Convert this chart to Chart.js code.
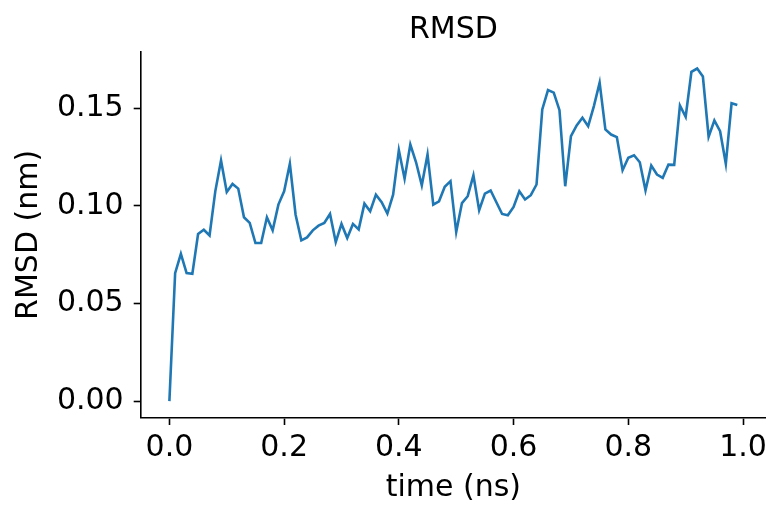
<!DOCTYPE html>
<html>
<head>
<meta charset="utf-8">
<script src="https://cdn.jsdelivr.net/npm/chart.js@4"></script>
<style>
  html, body { margin: 0; padding: 0; background: #fff; }
  #wrap { width: 782px; height: 520px; }
</style>
</head>
<body>
<div id="wrap"><canvas id="c" width="782" height="520"></canvas></div>
<script>
const chartTitle = "RMSD";
const xLabel = "time (ns)";
const yLabel = "RMSD (nm)";

const times = [
  0.00, 0.01, 0.02, 0.03, 0.04, 0.05, 0.06, 0.07, 0.08, 0.09,
  0.10, 0.11, 0.12, 0.13, 0.14, 0.15, 0.16, 0.17, 0.18, 0.19,
  0.20, 0.21, 0.22, 0.23, 0.24, 0.25, 0.26, 0.27, 0.28, 0.29,
  0.30, 0.31, 0.32, 0.33, 0.34, 0.35, 0.36, 0.37, 0.38, 0.39,
  0.40, 0.41, 0.42, 0.43, 0.44, 0.45, 0.46, 0.47, 0.48, 0.49,
  0.50, 0.51, 0.52, 0.53, 0.54, 0.55, 0.56, 0.57, 0.58, 0.59,
  0.60, 0.61, 0.62, 0.63, 0.64, 0.65, 0.66, 0.67, 0.68, 0.69,
  0.70, 0.71, 0.72, 0.73, 0.74, 0.75, 0.76, 0.77, 0.78, 0.79,
  0.80, 0.81, 0.82, 0.83, 0.84, 0.85, 0.86, 0.87, 0.88, 0.89,
  0.90, 0.91, 0.92, 0.93, 0.94, 0.95, 0.96, 0.97, 0.98, 0.99
];

const rmsd = [
  0.0000, 0.0656, 0.0755, 0.0656, 0.0652, 0.0856, 0.0878, 0.0849, 0.1075, 0.1233,
  0.1072, 0.1113, 0.1089, 0.0942, 0.0913, 0.0810, 0.0810, 0.0942, 0.0875, 0.1007,
  0.1075, 0.1216, 0.0955, 0.0824, 0.0839, 0.0875, 0.0899, 0.0913, 0.0959, 0.0815,
  0.0908, 0.0836, 0.0908, 0.0880, 0.1012, 0.0973, 0.1058, 0.1019, 0.0961, 0.1058,
  0.1286, 0.1140, 0.1315, 0.1224, 0.1106, 0.1264, 0.1007, 0.1024, 0.1098, 0.1127,
  0.0866, 0.1015, 0.1050, 0.1157, 0.0978, 0.1063, 0.1079, 0.1019, 0.0959, 0.0952,
  0.0995, 0.1075, 0.1033, 0.1055, 0.1110, 0.1495, 0.1594, 0.1581, 0.1491, 0.1101,
  0.1358, 0.1413, 0.1452, 0.1409, 0.1512, 0.1632, 0.1392, 0.1366, 0.1353, 0.1183,
  0.1247, 0.1260, 0.1224, 0.1080, 0.1207, 0.1161, 0.1144, 0.1212, 0.1211, 0.1515,
  0.1457, 0.1687, 0.1704, 0.1663, 0.1355, 0.1438, 0.1383, 0.1216, 0.1526, 0.1517
];

const xTicks = [0.0, 0.2, 0.4, 0.6, 0.8, 1.0];
const yTicks = [0.00, 0.05, 0.10, 0.15];

const FONT = "'DejaVu Sans', sans-serif";
const FS = 30;
const points = times.map((t, i) => ({ x: t, y: rmsd[i] }));

new Chart(document.getElementById('c'), {
  type: 'line',
  data: {
    datasets: [{
      data: points,
      borderColor: '#1f77b4',
      borderWidth: 2.6,
      pointRadius: 0,
      tension: 0,
      fill: false
    }]
  },
  options: {
    responsive: false,
    animation: false,
    devicePixelRatio: 1,
    layout: { padding: { left: 0, right: 16.3, top: 0, bottom: 0 } },
    plugins: {
      legend: { display: false },
      tooltip: { enabled: false },
      title: {
        display: true,
        fullSize: false,
        text: chartTitle,
        color: '#000',
        font: { family: FONT, size: FS, weight: 'normal', lineHeight: 1.2 },
        padding: { top: 12.1, bottom: 3.9 }
      }
    },
    scales: {
      x: {
        type: 'linear',
        min: -0.0495,
        max: 1.0395,
        afterBuildTicks: (s) => { s.ticks = xTicks.map(v => ({ value: v })); },
        afterFit: (s) => { s.height = 102.3; },
        grid: { display: true, drawOnChartArea: false, drawTicks: true, tickLength: 7.3, tickWidth: 1.6, tickColor: '#000' },
        border: { display: true, color: '#000', width: 1.6 },
        ticks: {
          color: '#000',
          padding: 5.4,
          maxRotation: 0,
          autoSkip: false,
          font: { family: FONT, size: FS, lineHeight: 1.2 },
          callback: (v) => Number(v).toFixed(1)
        },
        title: {
          display: true,
          text: xLabel,
          color: '#000',
          font: { family: FONT, size: FS, lineHeight: 1.2 },
          padding: { top: 0, bottom: 14.2 }
        }
      },
      y: {
        type: 'linear',
        min: -0.0085,
        max: 0.1789,
        afterBuildTicks: (s) => { s.ticks = yTicks.map(v => ({ value: v })); },
        afterFit: (s) => { s.width = 141; },
        grid: { display: true, drawOnChartArea: false, drawTicks: true, tickLength: 7.3, tickWidth: 1.6, tickColor: '#000' },
        border: { display: true, color: '#000', width: 1.6 },
        ticks: {
          color: '#000',
          padding: 10,
          autoSkip: false,
          font: { family: FONT, size: FS, lineHeight: 1.2 },
          callback: (v) => Number(v).toFixed(2)
        },
        title: {
          display: true,
          text: yLabel,
          color: '#000',
          font: { family: FONT, size: FS, lineHeight: 1.2 },
          padding: { top: 10.8, bottom: 0 }
        }
      }
    }
  }
});
</script>
</body>
</html>
